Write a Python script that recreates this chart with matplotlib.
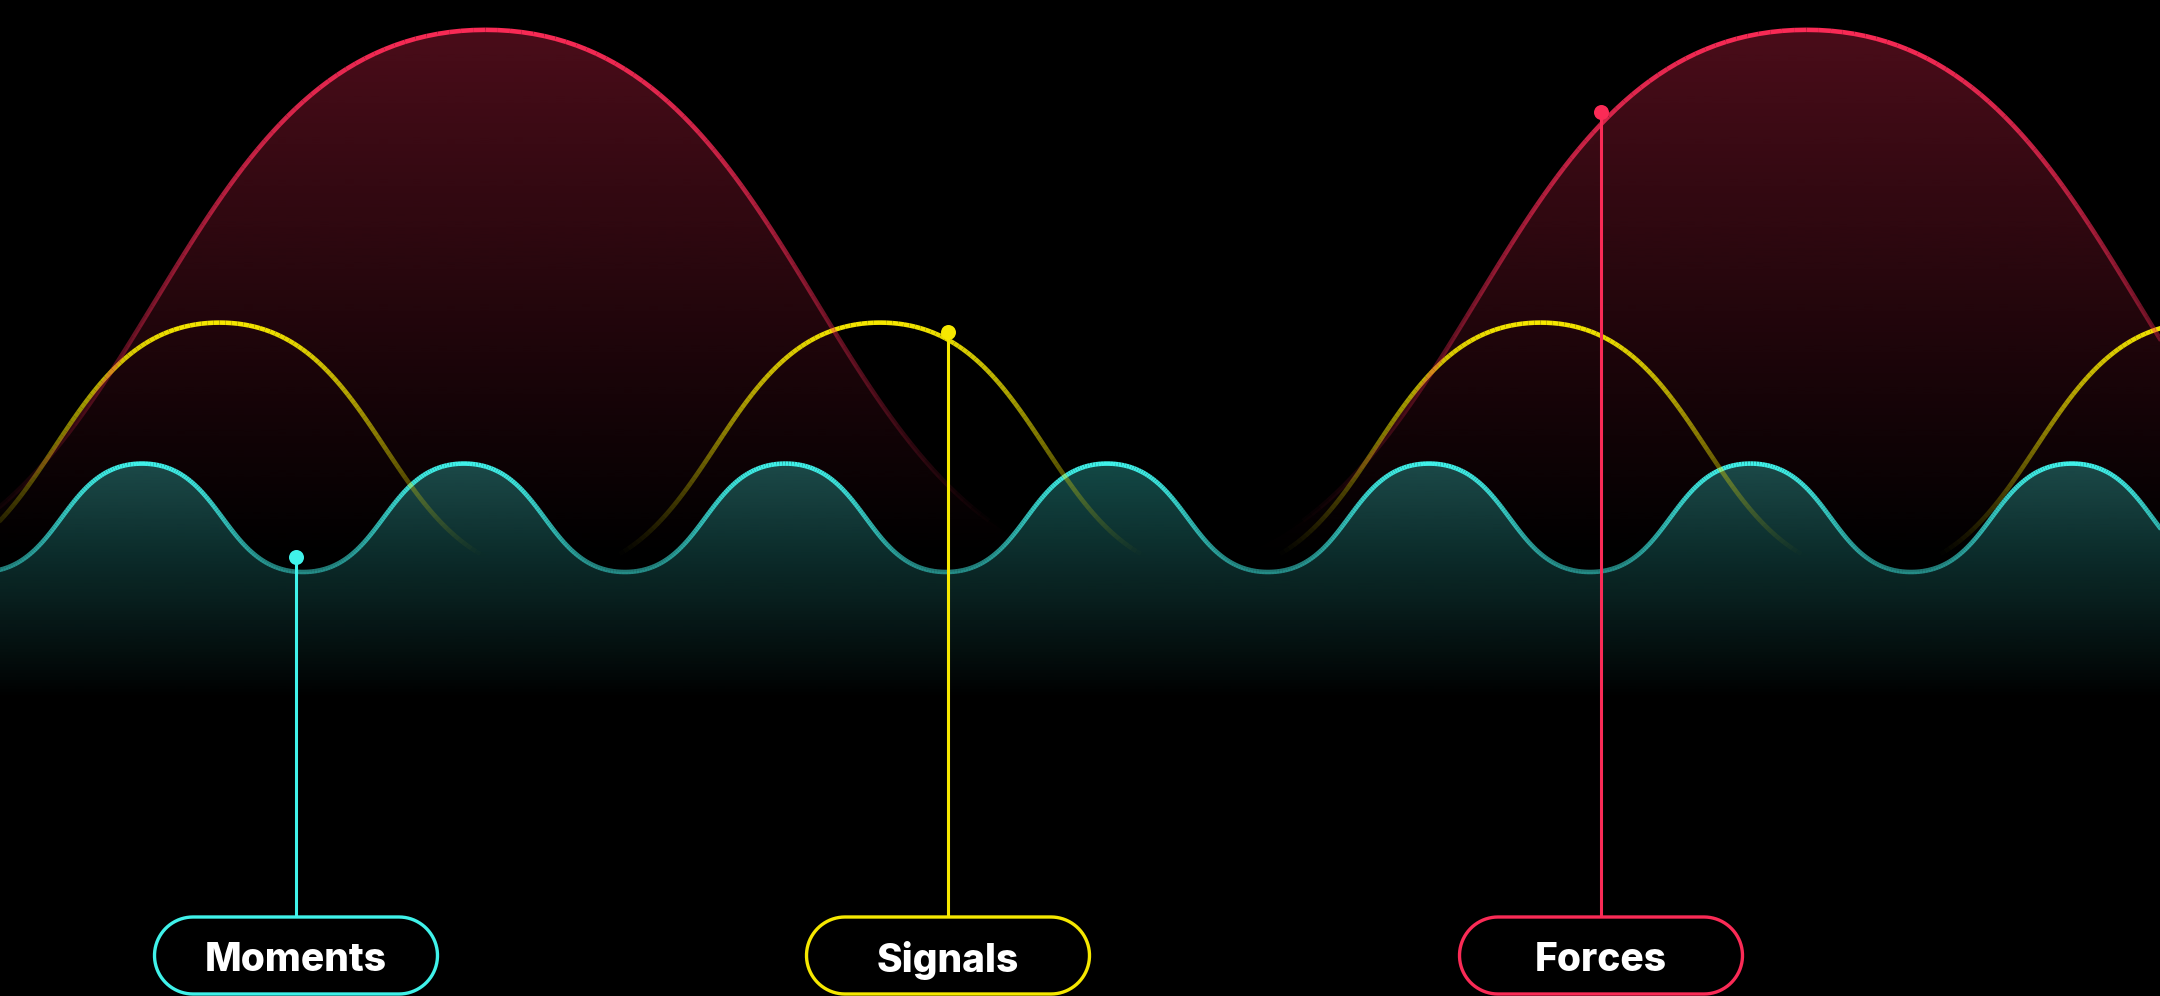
import numpy as np
import matplotlib
matplotlib.use('Agg')
import matplotlib.pyplot as plt
from matplotlib.path import Path
from matplotlib.patches import PathPatch, Polygon
from matplotlib.collections import LineCollection
from matplotlib.colors import to_rgb

# turning points of each wave (x along the strip, y as value)
forces_x = [-175, 485.5, 1146, 1806.5, 2467]
forces_y = [0, 100, 0, 100, 0]

signals_x = [-110.5, 219.5, 550, 880, 1210.5, 1540.5, 1871, 2201]
signals_y = [0, 46, 0, 46, 0, 46, 0, 46]

moments_x = [-19, 142, 303, 464, 625, 785.5, 946, 1107, 1268, 1429,
             1590, 1750.5, 1911, 2072, 2233]
moments_y = [0, 20, 0, 20, 0, 20, 0, 20, 0, 20, 0, 20, 0, 20, 0]

# callouts
labels = ['Moments', 'Signals', 'Forces']
pin_x = [296, 948, 1601]
pin_y = [2.8, 44.3, 84.9]

CYAN = '#40f2ea'
YELLOW = '#f6e800'
RED = '#fa2b56'
label_colors = [CYAN, YELLOW, RED]

YMIN, YMAX = -78.2, 105.5
XMIN, XMAX = 0, 2160


def smooth_path(xs, ys, a=0.5):
    # cubic segments with flat tangents at every turning point
    verts = [(xs[0], ys[0])]
    codes = [Path.MOVETO]
    for i in range(len(xs) - 1):
        dx = xs[i + 1] - xs[i]
        verts += [(xs[i] + a * dx, ys[i]), (xs[i + 1] - a * dx, ys[i + 1]),
                  (xs[i + 1], ys[i + 1])]
        codes += [Path.CURVE4] * 3
    return Path(verts, codes)


def flatten(path, n=80):
    t = np.linspace(0, 1, n)
    pts = [seg(t) for seg, code in path.iter_bezier() if code == Path.CURVE4]
    return np.vstack(pts)


def fade_line(ax, pts, color, y_lo, y_hi, a_lo, a_hi, lw, z):
    # alpha goes from a_lo at y_lo up to a_hi at y_hi
    segs = np.stack([pts[:-1], pts[1:]], axis=1)
    mid = (pts[:-1, 1] + pts[1:, 1]) / 2
    rgba = np.zeros((len(segs), 4))
    rgba[:, :3] = to_rgb(color)
    rgba[:, 3] = np.clip(np.interp(mid, [y_lo, y_hi], [a_lo, a_hi]), 0, 1)
    lc = LineCollection(segs, colors=rgba, linewidths=lw, capstyle='butt',
                        joinstyle='round', zorder=z)
    ax.add_collection(lc)


def fade_fill(ax, pts, color, y_bot, y_top, a_top, z):
    poly = np.vstack([pts, [pts[-1, 0], YMIN - 10], [pts[0, 0], YMIN - 10]])
    patch = PathPatch(Path(poly), facecolor='none', edgecolor='none')
    ax.add_patch(patch)
    yy = np.linspace(YMAX, YMIN, 600)
    img = np.zeros((600, 1, 4))
    img[:, 0, :3] = to_rgb(color)
    img[:, 0, 3] = np.interp(yy, [y_bot, y_top], [0, a_top])
    im = ax.imshow(img, extent=[XMIN, XMAX, YMIN, YMAX], aspect='auto',
                   origin='upper', interpolation='bilinear', zorder=z)
    im.set_clip_path(patch)


def pill(cx, top, w, h):
    # outline of a stadium shape in pixel units
    r = h / 2
    th = np.linspace(-np.pi / 2, np.pi / 2, 40)
    right = np.column_stack([cx + w / 2 - r + r * np.cos(th), top + r + r * np.sin(th)])
    left = np.column_stack([cx - w / 2 + r - r * np.cos(th), top + r - r * np.sin(th)])
    return np.vstack([right, left])


fig = plt.figure(figsize=(21.6, 9.96), dpi=100, facecolor='black')
ax = fig.add_axes([0, 0, 1, 1])
ax.set_facecolor('black')

red_pts = flatten(smooth_path(forces_x, forces_y))
yel_pts = flatten(smooth_path(signals_x, signals_y))
cyan_pts = flatten(smooth_path(moments_x, moments_y))

fade_fill(ax, red_pts, RED, 2, 100, 0.30, 1)
fade_fill(ax, cyan_pts, CYAN, -24, 20, 0.30, 2)

fade_line(ax, cyan_pts, CYAN, 0, 20, 0.5, 1.0, 3.3, 3)
fade_line(ax, yel_pts, YELLOW, 3, 46, 0.0, 1.0, 3.3, 4)
fade_line(ax, red_pts, RED, 8, 100, 0.0, 1.0, 3.3, 5)

ax.set_xlim(XMIN, XMAX)
ax.set_ylim(YMIN, YMAX)
ax.axis('off')

# overlay in pixel units for the label pills
ax2 = fig.add_axes([0, 0, 1, 1], facecolor='none')
ax2.set_xlim(0, 2160)
ax2.set_ylim(996, 0)
ax2.axis('off')

box_top, box_h, box_w = 917, 77, 283
for name, px, py, col in zip(labels, pin_x, pin_y, label_colors):
    # dot position in pixel units
    dot = ax2.transData.inverted().transform(ax.transData.transform((px, py)))
    ax2.plot([dot[0], dot[0]], [dot[1], box_top], color=col, lw=2.2,
             solid_capstyle='butt', zorder=6)
    ax2.plot(dot[0], dot[1], 'o', color=col, markersize=10.8, mew=0, zorder=7)
    ax2.add_patch(Polygon(pill(px, box_top, box_w, box_h), closed=True,
                          facecolor='black', edgecolor=col, lw=2.4, zorder=8))
    ax2.text(px, box_top + box_h / 2 + 1, name, color='white', fontsize=28,
             fontweight='heavy', family=['Inter', 'DejaVu Sans'],
             ha='center', va='center_baseline', zorder=9)

fig.savefig('out.png', dpi=100, facecolor='black')
